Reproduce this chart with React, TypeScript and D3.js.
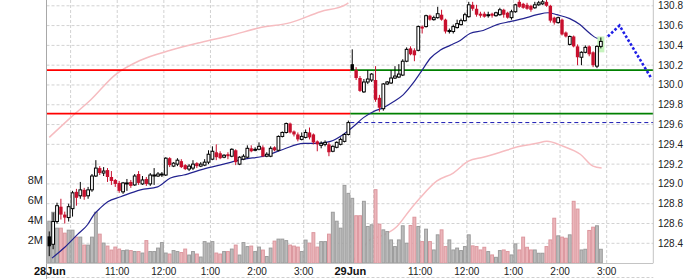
import React from 'react';
import * as d3 from 'd3';

// ---------- data ----------
const dayLabels = ['28Jun', '29Jun'];
const hourLabels = ['11:00', '12:00', '1:00', '2:00', '3:00'];
const hourBars = [18, 30, 42, 54, 66]; // 5-min bar offsets within a day
const gridBars = [6, 18, 30, 42, 54, 66];
const barsPerDay = 78;
const priceTicks = d3.range(0, 13).map((k) => 128.4 + 0.2 * k);
const volTicks = [2, 4, 6, 8];

// [open, high, low, close]
const day1: number[][] = [
  [128.47, 128.52, 128.27, 128.37], [128.39, 128.71, 128.34, 128.62], [128.62, 128.81, 128.6, 128.78],
  [128.77, 128.85, 128.64, 128.69], [128.69, 128.72, 128.6, 128.66], [128.66, 128.8, 128.62, 128.77],
  [128.75, 128.93, 128.67, 128.91], [128.92, 128.95, 128.78, 128.86], [128.88, 129.02, 128.85, 128.94],
  [128.94, 128.96, 128.84, 128.87], [128.88, 128.97, 128.85, 128.94], [128.94, 129.1, 128.92, 129.08],
  [129.08, 129.24, 129.07, 129.16], [129.16, 129.18, 129.09, 129.11], [129.11, 129.17, 129.08, 129.13],
  [129.14, 129.16, 129.02, 129.07], [129.07, 129.13, 128.99, 129.03], [129.04, 129.05, 128.97, 129.0],
  [129.01, 129.03, 128.91, 128.93], [128.92, 129.02, 128.9, 129.01], [129.0, 129.05, 128.93, 129.01],
  [129.02, 129.04, 128.96, 128.98], [128.99, 129.1, 128.98, 129.08], [129.1, 129.13, 128.99, 129.01],
  [129.0, 129.08, 128.99, 129.04], [129.05, 129.07, 128.98, 129.0], [129.0, 129.11, 128.98, 129.09],
  [129.08, 129.16, 128.99, 129.09], [129.08, 129.12, 129.07, 129.1], [129.09, 129.12, 129.07, 129.1],
  [129.09, 129.27, 129.08, 129.26], [129.26, 129.27, 129.17, 129.19], [129.18, 129.22, 129.17, 129.21],
  [129.2, 129.26, 129.18, 129.24], [129.23, 129.25, 129.16, 129.17], [129.19, 129.2, 129.14, 129.15],
  [129.15, 129.2, 129.13, 129.18], [129.16, 129.24, 129.14, 129.2], [129.21, 129.22, 129.16, 129.18],
  [129.18, 129.22, 129.17, 129.2], [129.19, 129.25, 129.18, 129.22], [129.22, 129.34, 129.2, 129.3],
  [129.25, 129.38, 129.24, 129.33], [129.32, 129.4, 129.24, 129.27], [129.31, 129.33, 129.25, 129.26],
  [129.27, 129.3, 129.26, 129.29], [129.3, 129.32, 129.25, 129.28], [129.28, 129.36, 129.27, 129.35],
  [129.34, 129.35, 129.19, 129.22], [129.2, 129.28, 129.19, 129.27], [129.25, 129.3, 129.24, 129.28],
  [129.27, 129.39, 129.26, 129.36], [129.36, 129.39, 129.32, 129.33], [129.34, 129.37, 129.33, 129.35],
  [129.35, 129.42, 129.34, 129.38], [129.37, 129.39, 129.27, 129.28], [129.28, 129.32, 129.27, 129.3],
  [129.28, 129.38, 129.27, 129.36], [129.37, 129.38, 129.33, 129.34], [129.34, 129.49, 129.33, 129.48],
  [129.48, 129.53, 129.47, 129.52], [129.52, 129.62, 129.51, 129.61], [129.61, 129.62, 129.51, 129.52],
  [129.53, 129.54, 129.48, 129.5], [129.5, 129.52, 129.43, 129.45], [129.45, 129.52, 129.44, 129.48],
  [129.47, 129.55, 129.46, 129.52], [129.52, 129.57, 129.45, 129.47], [129.5, 129.51, 129.4, 129.42],
  [129.43, 129.44, 129.33, 129.4], [129.39, 129.43, 129.36, 129.41], [129.4, 129.44, 129.38, 129.42],
  [129.4, 129.42, 129.28, 129.32], [129.33, 129.39, 129.32, 129.38], [129.37, 129.43, 129.36, 129.42],
  [129.4, 129.47, 129.39, 129.45], [129.43, 129.51, 129.42, 129.5], [129.5, 129.64, 129.49, 129.62],
];

const day2: number[][] = [
  [130.21, 130.36, 130.15, 130.15], [130.15, 130.18, 130.05, 130.07], [130.07, 130.09, 129.93, 129.94],
  [129.93, 130.06, 129.92, 130.03], [130.03, 130.15, 130.01, 130.06], [130.05, 130.12, 130.03, 130.11],
  [130.05, 130.19, 129.83, 129.85], [129.87, 129.9, 129.73, 129.77], [129.76, 130.02, 129.74, 130.01],
  [130.01, 130.04, 130.0, 130.03], [130.02, 130.15, 130.01, 130.07], [130.07, 130.19, 130.06, 130.09],
  [130.08, 130.21, 130.07, 130.11], [130.1, 130.26, 130.09, 130.24], [130.24, 130.38, 130.23, 130.36],
  [130.37, 130.39, 130.3, 130.31], [130.35, 130.37, 130.24, 130.3], [130.35, 130.6, 130.34, 130.59],
  [130.59, 130.6, 130.52, 130.57], [130.59, 130.71, 130.58, 130.7], [130.7, 130.71, 130.65, 130.66],
  [130.66, 130.7, 130.65, 130.68], [130.68, 130.79, 130.67, 130.72], [130.71, 130.76, 130.65, 130.66],
  [130.66, 130.67, 130.52, 130.54], [130.54, 130.57, 130.52, 130.55], [130.54, 130.61, 130.52, 130.59],
  [130.58, 130.66, 130.57, 130.62], [130.61, 130.67, 130.6, 130.65], [130.65, 130.73, 130.64, 130.71],
  [130.69, 130.84, 130.68, 130.81], [130.81, 130.84, 130.75, 130.77], [130.77, 130.81, 130.69, 130.71],
  [130.72, 130.74, 130.68, 130.7], [130.72, 130.74, 130.68, 130.69], [130.71, 130.74, 130.68, 130.71],
  [130.72, 130.73, 130.68, 130.7], [130.7, 130.74, 130.69, 130.73], [130.71, 130.78, 130.7, 130.76],
  [130.76, 130.77, 130.68, 130.71], [130.73, 130.74, 130.67, 130.68], [130.68, 130.76, 130.66, 130.74],
  [130.74, 130.82, 130.73, 130.81], [130.84, 130.86, 130.78, 130.79], [130.82, 130.83, 130.77, 130.78],
  [130.81, 130.83, 130.76, 130.77], [130.8, 130.81, 130.74, 130.76], [130.78, 130.84, 130.77, 130.81],
  [130.81, 130.85, 130.8, 130.83], [130.82, 130.86, 130.81, 130.84], [130.84, 130.86, 130.79, 130.8],
  [130.8, 130.81, 130.63, 130.65], [130.68, 130.69, 130.61, 130.63], [130.63, 130.69, 130.62, 130.68],
  [130.66, 130.67, 130.5, 130.51], [130.53, 130.54, 130.48, 130.49], [130.41, 130.5, 130.4, 130.49],
  [130.49, 130.5, 130.38, 130.39], [130.39, 130.41, 130.2, 130.28], [130.28, 130.34, 130.2, 130.33],
  [130.33, 130.4, 130.32, 130.38], [130.39, 130.4, 130.29, 130.31], [130.33, 130.34, 130.18, 130.2],
  [130.19, 130.4, 130.17, 130.39], [130.39, 130.48, 130.37, 130.44],
];

// volume in millions
const vol1 = [
  4.2, 5.1, 3.5, 3.5, 3.0, 3.3, 3.3, 2.6, 2.6, 1.8, 1.8, 2.6, 5.1, 2.9, 2.0, 1.7, 1.3, 1.6, 1.4, 1.25,
  1.3, 1.25, 1.15, 1.15, 1.0, 2.25, 1.15, 1.15, 1.5, 2.05, 1.0, 0.9, 1.25, 1.15, 1.05, 1.4, 0.8, 1.15, 0.9, 0.6,
  2.15, 2.0, 2.15, 1.0, 0.9, 1.15, 1.15, 1.4, 1.8, 0.8, 2.05, 1.65, 1.7, 1.15, 1.6, 1.3, 0.65, 1.5, 2.2, 2.4,
  2.4, 2.25, 1.8, 1.7, 1.6, 1.15, 2.3, 2.0, 3.05, 1.6, 2.15, 2.15, 2.9, 5.1, 4.2, 3.5, 7.8, 7.0,
];
const vol2 = [
  6.5, 4.75, 4.75, 6.2, 3.67, 3.84, 7.37, 3.9, 3.33, 3.16, 2.32, 1.65, 2.32, 3.74, 1.99, 3.77, 4.6, 3.67, 2.15, 3.4,
  2.15, 1.31, 2.83, 3.33, 1.65, 2.32, 1.31, 1.5, 1.25, 1.65, 2.83, 1.72, 1.65, 1.31, 1.58, 1.15, 0.81, 0.57, 1.25, 1.31,
  1.15, 0.81, 1.92, 1.31, 2.6, 1.58, 1.31, 1.31, 0.98, 0.98, 1.65, 2.32, 4.5, 2.73, 2.6, 2.49, 2.83, 6.2, 5.42, 1.31,
  1.38, 3.27, 3.6, 3.74, 1.38,
];

// moving average [bar, price]
const maLine: [number, number][] = [
  [0.7, 128.25], [4.0, 128.36], [7.3, 128.49], [9.9, 128.59], [11.5, 128.69], [13.25, 128.76], [15.05, 128.82],
  [18.4, 128.87], [23.5, 128.94], [27.9, 128.97], [31.2, 129.06], [34.6, 129.09], [39.7, 129.15], [44.9, 129.2],
  [50, 129.25], [55.2, 129.28], [60.3, 129.35], [65.4, 129.41], [69, 129.41], [72.4, 129.43], [75.7, 129.5],
  [78, 129.57], [80.9, 129.67], [83.4, 129.73], [86, 129.77], [88.6, 129.83], [91.1, 129.9], [93.7, 130.02],
  [96, 130.15], [98.1, 130.27], [100.6, 130.35], [103.2, 130.4], [105.8, 130.45], [108.3, 130.52], [111.7, 130.55],
  [115.3, 130.61], [118.6, 130.64], [122, 130.67], [125.6, 130.71], [128.4, 130.73], [130.7, 130.71], [134, 130.67],
  [136.6, 130.61], [139.2, 130.52], [141.3, 130.47], [142.3, 130.47],
];

// light indicator line (per day) [bar, value on price axis]
const ind1: [number, number][] = [
  [0, 129.47], [5.5, 129.67], [10.7, 129.85], [16.9, 130.1], [23.5, 130.25], [31.2, 130.35], [39, 130.43],
  [46.7, 130.5], [54.4, 130.58], [62.1, 130.63], [69.8, 130.74], [76.2, 130.81], [77, 130.83],
];
const ind2: [number, number][] = [
  [78, 128.21], [80.1, 128.32], [82.7, 128.44], [85.2, 128.47], [89.5, 128.57], [92.9, 128.74], [95.5, 128.86],
  [99.8, 129.03], [104, 129.11], [107.9, 129.23], [111.7, 129.27], [116.1, 129.32], [121.2, 129.38],
  [125.5, 129.41], [128.1, 129.43], [132.3, 129.38], [136.7, 129.3], [140, 129.18], [142.2, 129.16],
];

const projection: [number, number][] = [[143.8, 130.49], [146.8, 130.6], [155.1, 130.06]];
const levels = [130.15, 129.71];

// ---------- chart ----------
const FONT = 'Liberation Sans, Arial, Helvetica, sans-serif';
const RED = '#c8102e';

export default function App() {
  const totalBars = barsPerDay * 2;
  const left = 46.5;
  const right = 653.3;
  const bottom = 263;
  const x = d3.scaleLinear().domain([0, totalBars]).range([47.3, right]);
  const y = d3.scaleLinear().domain([128.4, 130.8]).range([243.3, 5.8]);
  const yv = d3.scaleLinear().domain([0, 8]).range([bottom, 183.4]);
  const step = x(1) - x(0);

  const all = [...day1, ...day2];
  const vols = [...vol1, ...vol2];
  const bars = all.map((d, i) => {
    const [o, h, l, c] = d;
    const prev = i > 0 ? all[i - 1][3] : c;
    const down = c < prev;
    return { i, o, h, l, c, down, filled: c < o, v: vols[i] };
  });
  const prevClose = day1[day1.length - 1][3];

  const line = d3
    .line<[number, number]>()
    .x((d) => x(d[0] + 0.5))
    .y((d) => y(d[1]))
    .curve(d3.curveMonotoneX);

  const vGrid: number[] = [];
  [0, 1].forEach((d) => gridBars.forEach((b) => vGrid.push(d * barsPerDay + b)));
  vGrid.push(barsPerDay);

  const last = bars[bars.length - 1];

  return (
    <div style={{ position: 'absolute', left: 0, top: 0, width: 700, height: 279, background: '#fff' }}>
      <svg width={700} height={279} style={{ display: 'block' }} fontFamily={FONT}>
        <rect x={0} y={0} width={700} height={279} fill="#fff" />
        {/* horizontal grid */}
        {priceTicks.map((p, k) => (
          <line key={'hg' + k} x1={left} x2={right} y1={y(p)} y2={y(p)} stroke="#d2d2d2" strokeDasharray="3,2" />
        ))}
        {/* vertical grid */}
        {vGrid.map((b) => (
          <line key={'vg' + b} x1={x(b)} x2={x(b)} y1={0} y2={bottom} stroke="#d2d2d2" strokeDasharray="3,2" />
        ))}
        <line x1={left} x2={right} y1={277.5} y2={277.5} stroke="#d0d0d0" strokeDasharray="3,2" />

        {/* indicator lines */}
        <path d={line(ind1) || ''} fill="none" stroke="#f6bcc0" strokeWidth={1.5} />
        <path d={line(ind2) || ''} fill="none" stroke="#f6bcc0" strokeWidth={1.5} />

        {/* volume */}
        {bars.map((b) => (
          <rect
            key={'v' + b.i}
            x={x(b.i) + 0.5}
            width={step - 1}
            y={yv(b.v)}
            height={bottom - yv(b.v)}
            fill={b.down ? '#ebb6bb' : '#bcbcbc'}
            stroke={b.down ? '#dc979e' : '#9c9c9c'}
            strokeWidth={1}
          />
        ))}

        {/* support / resistance */}
        {levels.map((lv, k) => (
          <g key={'lv' + k}>
            <line x1={left} x2={x(barsPerDay)} y1={y(lv)} y2={y(lv)} stroke="#ff0000" strokeWidth={1.6} />
            <line x1={x(barsPerDay)} x2={right} y1={y(lv)} y2={y(lv)} stroke="#008000" strokeWidth={1.6} />
          </g>
        ))}
        <line
          x1={x(barsPerDay)}
          x2={right}
          y1={y(prevClose)}
          y2={y(prevClose)}
          stroke="#1a1ab4"
          strokeWidth={1}
          strokeDasharray="4,3"
        />

        {/* moving average */}
        <path d={line(maLine) || ''} fill="none" stroke="#22228f" strokeWidth={1.2} />

        {/* highlight last candle */}
        <rect
          x={x(last.i + 0.5) - 3.5}
          width={7}
          y={y(last.h) - 1}
          height={y(last.l) - y(last.h) + 5}
          fill="#c6f3bd"
        />

        {/* candles */}
        {bars.map((b) => {
          const cx = x(b.i + 0.5);
          const col = b.down ? RED : '#000';
          const top = y(Math.max(b.o, b.c));
          const bot = y(Math.min(b.o, b.c));
          const hgt = Math.max(1, bot - top);
          return (
            <g key={'c' + b.i}>
              <line x1={cx} x2={cx} y1={y(b.h)} y2={y(b.l)} stroke={col} strokeWidth={1} />
              {b.filled ? (
                <rect x={cx - 1.7} width={3.4} y={top} height={hgt} fill={col} />
              ) : (
                <rect x={cx - 1.4} width={2.8} y={top} height={hgt} fill="#fff" stroke={col} strokeWidth={1} />
              )}
            </g>
          );
        })}

        {/* projection */}
        <path
          d={d3.line<[number, number]>().x((d) => x(d[0] + 0.5)).y((d) => y(d[1]))(projection) || ''}
          fill="none"
          stroke="#1f1fe6"
          strokeWidth={2.6}
          strokeDasharray="2.6,2"
        />

        {/* frame */}
        <line x1={left} x2={left} y1={0} y2={279} stroke="#a8a8a8" />
        <line x1={right} x2={right} y1={0} y2={bottom} stroke="#c4c4c4" />
        <line x1={left} x2={right} y1={bottom + 0.5} y2={bottom + 0.5} stroke="#c4c4c4" />

        {/* right price labels */}
        {priceTicks.map((p, k) => (
          <text key={'pl' + k} x={658} y={y(p)} dy="0.35em" fontSize={10} fill="#222">
            {p.toFixed(1)}
          </text>
        ))}
        {/* volume labels */}
        {volTicks.map((v) => (
          <text key={'vl' + v} x={43} y={yv(v) + 1} textAnchor="end" fontSize={11} fill="#222">
            {v + 'M'}
          </text>
        ))}
        {/* x labels */}
        {dayLabels.map((lab, d) => (
          <text
            key={'dl' + d}
            x={x(d * barsPerDay) + (d === 0 ? 2.5 : 0)}
            y={271.5}
            dy="0.35em"
            textAnchor="middle"
            fontSize={11}
            fontWeight="bold"
            fill="#111"
          >
            {lab}
          </text>
        ))}
        {[0, 1].map((d) =>
          hourLabels.map((lab, k) => (
            <text
              key={'hl' + d + k}
              x={x(d * barsPerDay + hourBars[k])}
              y={271.5}
              dy="0.35em"
              textAnchor="middle"
              fontSize={10}
              fill="#222"
            >
              {lab}
            </text>
          ))
        )}
      </svg>
    </div>
  );
}
